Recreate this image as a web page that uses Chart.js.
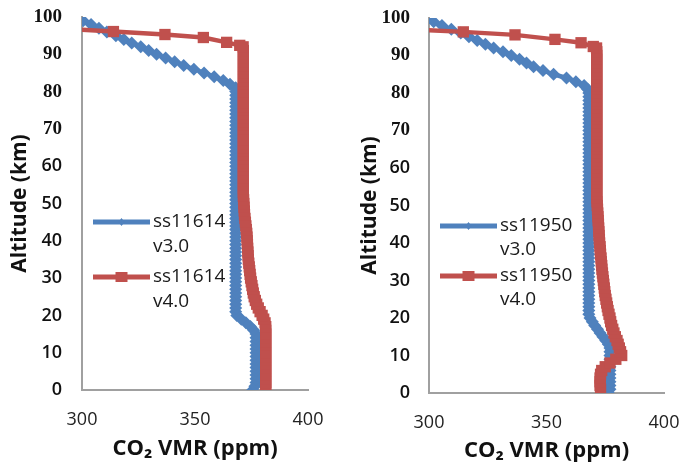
<!DOCTYPE html>
<html>
<head>
<meta charset="utf-8">
<script src="https://cdn.jsdelivr.net/npm/chart.js@4.4.0/dist/chart.umd.min.js"></script>
<style>
  html, body { margin: 0; padding: 0; background: #fff; }
  #wrap { position: relative; width: 681px; height: 464px; }
  #c1 { position: absolute; left: 0; top: 0; }
  #c2 { position: absolute; left: 340px; top: 0; }
</style>
</head>
<body>
<div id="wrap">
  <canvas id="c1" width="340" height="464"></canvas>
  <canvas id="c2" width="341" height="464"></canvas>
</div>
<script>
// tick labels
const xTicks = [300, 350, 400];
const yTicks = [0, 10, 20, 30, 40, 50, 60, 70, 80, 90, 100];

// altitude grid (km) used by the v3.0 profiles
const altGrid = [
  0, 1, 2, 3, 4, 5, 6, 7, 8, 9,
  10, 11, 12, 13, 14, 15, 16, 17, 18, 19,
  20, 21, 22, 23, 24, 25, 26, 27, 28, 29,
  30, 31, 32, 33, 34, 35, 36, 37, 38, 39,
  40, 41, 42, 43, 44, 45, 46, 47, 48, 49,
  50, 51, 52, 53, 54, 55, 56, 57, 58, 59,
  60, 61, 62, 63, 64, 65, 66, 67, 68, 69,
  70, 71, 72, 73, 74, 75, 76, 77, 78, 79,
  80, 81, 82, 83, 84, 85, 86, 87, 88, 89,
  90, 91, 92, 93, 94, 95, 96, 97, 98, 99,
  100
];

// ss11614 v3.0 (ppm, on altGrid)
const ss11614_v3 = [
  375.5, 376.5, 377, 377, 377, 377, 377, 377, 377, 377,
  377, 377, 377, 377, 377, 377, 376, 374.5, 372.5, 370.5,
  368.5, 368, 368, 368, 368, 368, 368, 368, 368, 368,
  368, 368, 368, 368, 368, 368, 368, 368, 368, 368,
  368, 368, 368, 368, 368, 368, 368, 368, 368, 368,
  368, 368, 368, 368, 368, 368, 368, 368, 368, 368,
  368, 368, 368, 368, 368, 368, 368, 368, 368, 368,
  368, 368, 368, 368, 368, 368, 368, 368, 368, 368,
  368, 368, 365.5, 362.5, 358.5, 354, 349.5, 345, 341, 337,
  333, 329.5, 326, 322, 318.5, 315, 311, 307.5, 304, 300.5,
  297
];

// ss11614 v4.0
const alt_ss11614_v4 = [
  0, 1, 2, 3, 4, 5, 6, 7, 8, 9,
  10, 11, 12, 13, 14, 15, 16, 17, 18, 19,
  20, 21, 22, 23, 24, 25, 26, 27, 28, 29,
  30, 31, 32, 33, 34, 35, 36, 37, 38, 39,
  40, 41, 42, 43, 44, 45, 46, 47, 48, 49,
  50, 51, 52, 53, 54, 55, 56, 57, 58, 59,
  60, 61, 62, 63, 64, 65, 66, 67, 68, 69,
  70, 71, 72, 73, 74, 75, 76, 77, 78, 79,
  80, 81, 82, 83, 84, 85, 86, 87, 88, 89,
  90, 91, 92, 92.4, 93.2, 94.5, 95.3, 96.1, 97.3
];
const ss11614_v4 = [
  381.3, 381.3, 381.3, 381.3, 381.3, 381.3, 381.3, 381.3, 381.3, 381.3,
  381.3, 381.3, 381.3, 381.3, 381.3, 381.3, 381.3, 381.3, 381, 380.4,
  379.7, 378.8, 378, 377.3, 376.7, 376.2, 375.8, 375.5, 375.2, 374.9,
  374.6, 374.4, 374.2, 374, 373.8, 373.6, 373.5, 373.4, 373.3, 373.2,
  373.1, 373, 372.9, 372.7, 372.5, 372.3, 372.1, 371.9, 371.8, 371.7,
  371.6, 371.5, 371.4, 371.4, 371.4, 371.4, 371.4, 371.4, 371.4, 371.4,
  371.4, 371.4, 371.4, 371.4, 371.4, 371.4, 371.4, 371.4, 371.4, 371.4,
  371.4, 371.4, 371.4, 371.4, 371.4, 371.4, 371.4, 371.4, 371.4, 371.4,
  371.4, 371.4, 371.4, 371.4, 371.4, 371.4, 371.4, 371.4, 371.4, 371.4,
  371.4, 371.4, 371.3, 369.8, 364, 353.7, 336.7, 313.9, 280
];

// ss11950 v3.0 (ppm, on altGrid)
const ss11950_v3 = [
  376.3, 377, 377, 377, 377, 377, 377, 377, 377, 377,
  377, 377, 377, 376.3, 375.2, 374, 372.8, 371.7, 370.5, 369.5,
  368.5, 368, 368, 368, 368, 368, 368, 368, 368, 368,
  368, 368, 368, 368, 368, 368, 368, 368, 368, 368,
  368, 368, 368, 368, 368, 368, 368, 368, 368, 368,
  368, 368, 368, 368, 368, 368, 368, 368, 368, 368,
  368, 368, 368, 368, 368, 368, 368, 368, 368, 368,
  368, 368, 368, 368, 368, 368, 368, 368, 368, 368,
  368, 367.5, 366, 362.5, 358.5, 353, 348.5, 344.5, 341.5, 338.5,
  335, 331.5, 327.5, 324, 320.5, 317, 313.5, 309.5, 305.5, 302,
  298.5
];

// ss11950 v4.0
const alt_ss11950_v4 = [
  1, 2, 3, 4, 5, 6, 7, 8, 9,
  10, 11, 12, 13, 14, 15, 16, 17, 18, 19,
  20, 21, 22, 23, 24, 25, 26, 27, 28, 29,
  30, 31, 32, 33, 34, 35, 36, 37, 38, 39,
  40, 41, 42, 43, 44, 45, 46, 47, 48, 49,
  50, 51, 52, 53, 54, 55, 56, 57, 58, 59,
  60, 61, 62, 63, 64, 65, 66, 67, 68, 69,
  70, 71, 72, 73, 74, 75, 76, 77, 78, 79,
  80, 81, 82, 83, 84, 85, 86, 87, 88, 89,
  90, 91, 92, 92.4, 93.4, 94.3, 95.5, 96.3, 97.3
];
const ss11950_v4 = [
  373, 372.8, 372.8, 372.8, 373, 373.5, 375, 377, 379.5,
  382, 381.5, 381, 380.5, 380, 379.3, 378.7, 378.2, 377.7, 377.3,
  377, 376.6, 376.2, 375.9, 375.6, 375.3, 375, 374.8, 374.6, 374.4,
  374.2, 374, 373.8, 373.6, 373.5, 373.3, 373.2, 373, 372.9, 372.8,
  372.6, 372.5, 372.4, 372.3, 372.2, 372.1, 372, 371.9, 371.8, 371.7,
  371.6, 371.5, 371.4, 371.4, 371.4, 371.4, 371.4, 371.4, 371.4, 371.4,
  371.4, 371.4, 371.4, 371.4, 371.4, 371.4, 371.4, 371.4, 371.4, 371.4,
  371.4, 371.4, 371.4, 371.4, 371.4, 371.4, 371.4, 371.4, 371.4, 371.4,
  371.4, 371.4, 371.4, 371.4, 371.4, 371.4, 371.4, 371.4, 371.4, 371.4,
  371.4, 371.4, 371.3, 369.9, 364.7, 353.6, 336.6, 314.6, 280
];

const BLUE = '#4f81bd';
const RED = '#c0504d';
const AXIS = '#a0a0a0';

function toPoints(alts, vals) {
  return vals.map((v, i) => ({ x: v, y: alts[i] }));
}

// legend drawn inside the plot, label split over two lines
const sideLegend = {
  id: 'sideLegend',
  afterDatasetsDraw(chart, args, opts) {
    const ctx = chart.ctx;
    ctx.save();
    chart.data.datasets.forEach((ds, i) => {
      const y = opts.y + i * opts.itemGap;
      const x0 = opts.x, x1 = opts.x + opts.lineLen, xm = (x0 + x1) / 2;
      ctx.strokeStyle = ds.borderColor;
      ctx.lineWidth = 5;
      ctx.beginPath();
      ctx.moveTo(x0, y);
      ctx.lineTo(x1, y);
      ctx.stroke();
      ctx.fillStyle = ds.borderColor;
      ctx.beginPath();
      if (ds.pointStyle === 'rect') {
        ctx.rect(xm - 6, y - 5, 12, 10);
      } else {
        ctx.moveTo(xm, y - 4);
        ctx.lineTo(xm + 3, y);
        ctx.lineTo(xm, y + 4);
        ctx.lineTo(xm - 3, y);
        ctx.closePath();
      }
      ctx.fill();
      ctx.fillStyle = '#1a1a1a';
      ctx.font = '19px "Open Sans"';
      ctx.textAlign = 'left';
      ctx.textBaseline = 'middle';
      ds.label.split(' ').forEach((t, j) => {
        ctx.fillText(t, x1 + 3, y + j * opts.lineGap);
      });
    });
    ctx.restore();
  }
};

function yTickFont(c) {
  if (c.tick && c.tick.value >= 70) {
    return { family: '"Liberation Serif", serif', size: 19, weight: 'bold' };
  }
  return { family: '"Open Sans", sans-serif', size: 18, weight: '600' };
}

// keep the plot box where the layout padding puts it
function noEdgePadding(s) {
  s.paddingTop = 0;
  s.paddingBottom = 0;
  s.paddingLeft = 0;
  s.paddingRight = 0;
}

function makeChart(id, v3, altV4, v4, name, geo) {
  return new Chart(document.getElementById(id), {
    type: 'scatter',
    data: {
      datasets: [
        {
          label: name + ' v3.0',
          data: toPoints(altGrid, v3),
          showLine: true,
          borderColor: BLUE,
          backgroundColor: BLUE,
          borderWidth: 4.5,
          pointStyle: 'rectRot',
          pointRadius: 6.5,
          pointBorderWidth: 0,
          order: 2
        },
        {
          label: name + ' v4.0',
          data: toPoints(altV4, v4),
          showLine: true,
          borderColor: RED,
          backgroundColor: RED,
          borderWidth: 4.5,
          pointStyle: 'rect',
          pointRadius: 8,
          pointBorderWidth: 0,
          order: 1
        }
      ]
    },
    options: {
      responsive: false,
      animation: false,
      layout: {
        autoPadding: false,
        padding: { left: 0, top: geo.top, right: geo.right, bottom: 0 }
      },
      scales: {
        x: {
          type: 'linear',
          min: 300,
          max: 400,
          afterBuildTicks: s => { s.ticks = xTicks.map(v => ({ value: v })); },
          afterFit: s => { s.height = geo.xHeight; noEdgePadding(s); },
          grid: { display: false, drawTicks: false },
          border: { display: true, color: AXIS, width: 2 },
          ticks: {
            padding: geo.xTickPad,
            color: '#222',
            font: { family: '"Open Sans", sans-serif', size: 18 }
          },
          title: {
            display: true,
            text: 'CO₂ VMR (ppm)',
            color: '#111',
            font: { family: '"Open Sans", sans-serif', size: 22, weight: 'bold' },
            padding: { top: 0, bottom: geo.xTitlePad }
          }
        },
        y: {
          type: 'linear',
          min: 0,
          max: 100,
          afterBuildTicks: s => { s.ticks = yTicks.map(v => ({ value: v })); },
          afterFit: s => { s.width = geo.yWidth; noEdgePadding(s); },
          grid: { display: false, drawTicks: false },
          border: { display: true, color: AXIS, width: 2 },
          ticks: {
            padding: geo.yTickPad,
            color: '#111',
            font: yTickFont
          },
          title: {
            display: true,
            text: 'Altitude (km)',
            color: '#111',
            font: { family: '"Open Sans", sans-serif', size: 21, weight: 'bold' },
            padding: { top: geo.yTitlePad, bottom: 0 }
          }
        }
      },
      plugins: {
        legend: { display: false },
        tooltip: { enabled: false },
        sideLegend: geo.legend
      }
    },
    plugins: [sideLegend]
  });
}

makeChart('c1', ss11614_v3, alt_ss11614_v4, ss11614_v4, 'ss11614', {
  top: 17, right: 32, xHeight: 74, yWidth: 82,
  xTickPad: 19, yTickPad: 20, xTitlePad: 2, yTitlePad: 7,
  legend: { x: 93, y: 222, lineLen: 57, itemGap: 55, lineGap: 25 }
});

makeChart('c2', ss11950_v3, alt_ss11950_v4, ss11950_v4, 'ss11950', {
  top: 18, right: 17, xHeight: 71, yWidth: 89,
  xTickPad: 19, yTickPad: 19, xTitlePad: 0, yTitlePad: 17,
  legend: { x: 100, y: 226, lineLen: 57, itemGap: 50, lineGap: 24 }
});
</script>
</body>
</html>
